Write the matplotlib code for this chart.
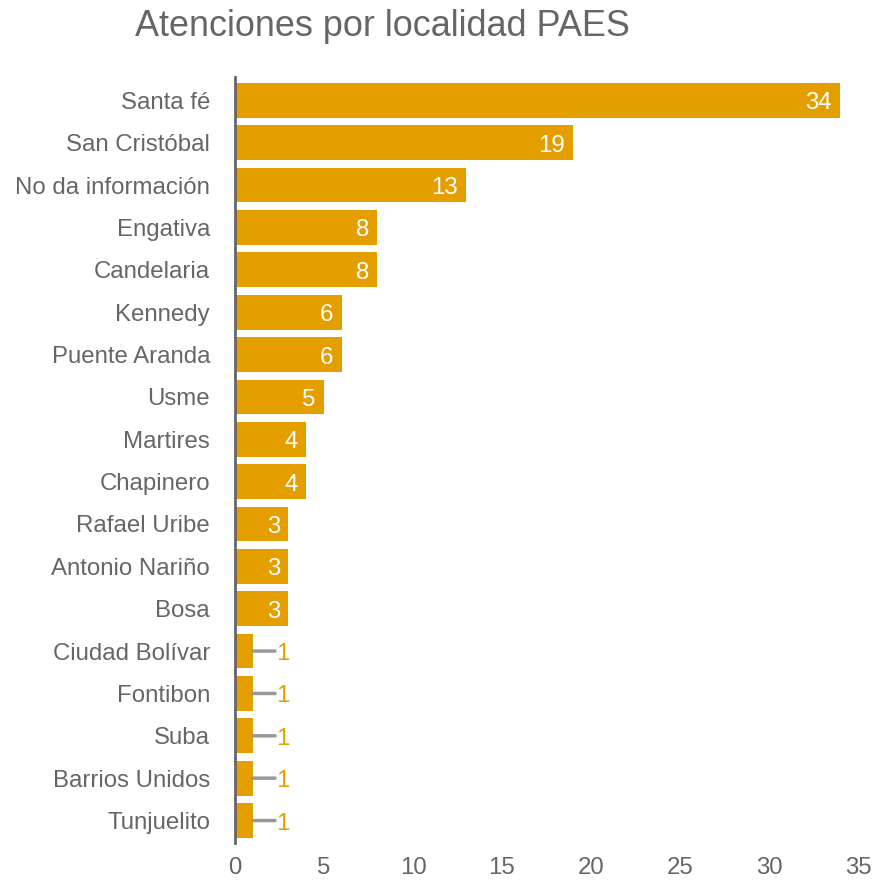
import matplotlib
matplotlib.use("Agg")
import matplotlib.pyplot as plt

categories = ["Santa fé", "San Cristóbal", "No da información", "Engativa", "Candelaria",
              "Kennedy", "Puente Aranda", "Usme", "Martires", "Chapinero", "Rafael Uribe",
              "Antonio Nariño", "Bosa", "Ciudad Bolívar", "Fontibon", "Suba",
              "Barrios Unidos", "Tunjuelito"]
values = [34, 19, 13, 8, 8, 6, 6, 5, 4, 4, 3, 3, 3, 1, 1, 1, 1, 1]
x_ticks = [0, 5, 10, 15, 20, 25, 30, 35]

plt.rcParams['font.family'] = ['Liberation Sans', 'DejaVu Sans']
bar_color = "#E59E00"
text_gray = "#666666"

fig = plt.figure(figsize=(8.75, 8.81), dpi=100)
ax = fig.add_axes([235/875, 1-843/881, (858-235)/875, 766/881])

ypos = list(range(len(categories)))
ax.barh(ypos, values, height=0.82, color=bar_color, zorder=2)
ax.set_ylim(len(categories) - 0.47, -0.55)
ax.set_xlim(0, 35)
ax.set_yticks(ypos)
ax.set_yticklabels(categories)
ax.set_xticks(x_ticks)
ax.set_xticklabels([str(t) for t in x_ticks])
ax.tick_params(axis='y', length=0, pad=18, labelsize=17.3, labelcolor=text_gray)
ax.tick_params(axis='x', length=0, pad=10, labelsize=17.3, labelcolor=text_gray)
for s in ['top', 'right', 'bottom']:
    ax.spines[s].set_visible(False)
ax.spines['left'].set_color("#666666")
ax.spines['left'].set_linewidth(2)
ax.spines['left'].set_zorder(3)

for y, v in zip(ypos, values):
    if v >= 3:
        ax.annotate(str(v), xy=(v, y), xytext=(-6, -6.5), textcoords='offset points',
                    ha='right', va='baseline', color='white', fontsize=17.3)
    else:
        ax.annotate("", xy=(v, y), xytext=(16, 0), textcoords='offset points',
                    arrowprops=dict(arrowstyle='-', color='#999999', lw=2.5,
                                    shrinkA=0, shrinkB=0))
        ax.annotate(str(v), xy=(v, y), xytext=(16.5, -6.5), textcoords='offset points',
                    ha='left', va='baseline', color=bar_color, fontsize=17.3)

fig.text(135/875, 1-26/881, "Atenciones por localidad PAES", ha='left', va='center',
         fontsize=25.9, color=text_gray)

fig.savefig("out.png", dpi=100, facecolor='white')
